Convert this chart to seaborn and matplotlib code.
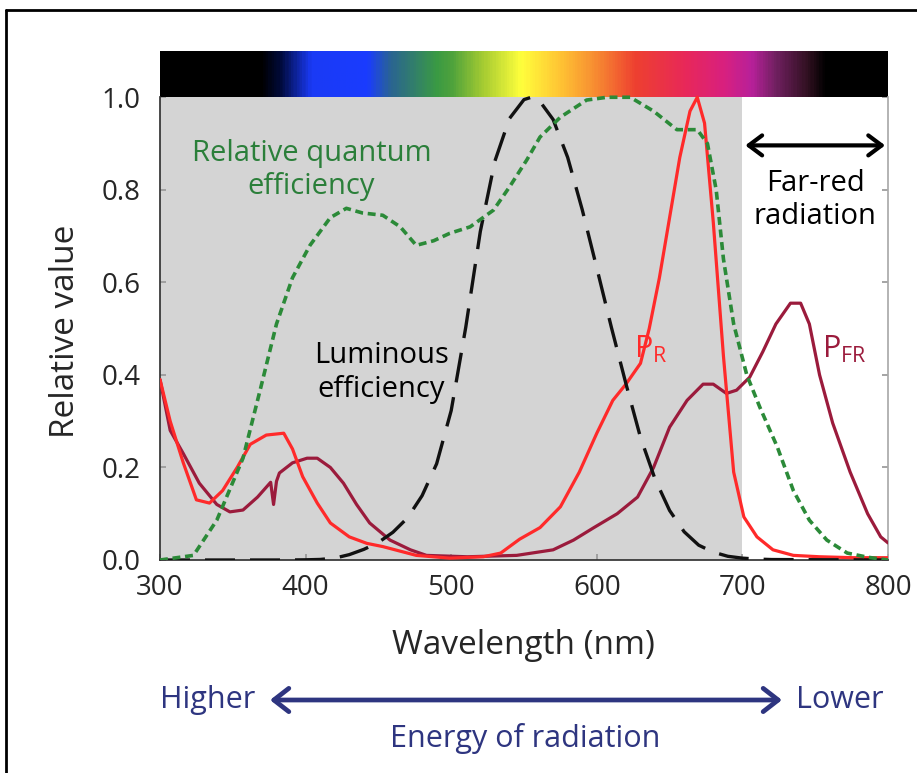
import matplotlib
matplotlib.use("Agg")
import matplotlib.pyplot as plt
import seaborn as sns
import numpy as np
import pandas as pd
from matplotlib.colors import LinearSegmentedColormap
from matplotlib.lines import Line2D

# ---------------------
#        DATA
# ---------------------
qe_wl = [300, 323, 339, 357, 369, 380, 391, 403, 417, 428, 439, 453, 465, 476, 488, 499,
         513, 529, 540, 552, 561, 575, 593, 607, 623, 639, 655, 669, 676, 682, 687, 694,
         703, 712, 724, 735, 746, 758, 772, 786, 800]
qe_val = [0.0, 0.01, 0.086, 0.22, 0.37, 0.51, 0.61, 0.68, 0.74, 0.76, 0.75, 0.745, 0.72, 0.68,
          0.69, 0.706, 0.72, 0.756, 0.806, 0.865, 0.914, 0.957, 0.994, 1.0, 1.0, 0.97, 0.93,
          0.93, 0.90, 0.80, 0.65, 0.51, 0.40, 0.33, 0.244, 0.15, 0.086, 0.043, 0.015, 0.006, 0.0]

lum_wl = [300, 380, 390, 400, 410, 420, 430, 440, 450, 460, 470, 480, 490, 500, 510, 520,
          530, 540, 550, 555, 560, 570, 580, 590, 600, 610, 620, 630, 640, 650, 660, 670,
          680, 690, 700, 710, 720, 800]
lum_val = [0.0, 0.0, 0.0001, 0.0004, 0.0012, 0.004, 0.0116, 0.023, 0.038, 0.06, 0.091, 0.139,
           0.208, 0.323, 0.503, 0.71, 0.862, 0.954, 0.995, 1.0, 0.995, 0.952, 0.87, 0.757,
           0.631, 0.503, 0.381, 0.265, 0.175, 0.107, 0.061, 0.032, 0.017, 0.008, 0.004, 0.002,
           0.001, 0.0]

pr_wl = [300, 307, 316, 325, 334, 343, 353, 362, 373, 385, 391, 398, 408, 417, 430, 442, 453,
         476, 499, 522, 534, 547, 561, 575, 588, 600, 611, 620, 630, 636, 643, 650, 657, 664,
         669, 674, 680, 687, 694, 701, 710, 721, 735, 753, 776, 800]
pr_val = [0.39, 0.30, 0.21, 0.13, 0.123, 0.15, 0.2, 0.25, 0.27, 0.274, 0.24, 0.18, 0.123,
          0.08, 0.05, 0.036, 0.029, 0.01, 0.004, 0.007, 0.015, 0.045, 0.07, 0.115, 0.19,
          0.274, 0.345, 0.38, 0.425, 0.5, 0.61, 0.74, 0.87, 0.97, 1.0, 0.944, 0.73, 0.44,
          0.19, 0.093, 0.05, 0.022, 0.01, 0.007, 0.005, 0.005]

pfr_wl = [300, 307, 316, 327, 339, 348, 357, 367, 376, 378, 380, 382, 391, 401, 408, 417, 426,
          435, 444, 458, 472, 483, 511, 545, 570, 584, 598, 614, 628, 639, 650, 662, 673, 680,
          689, 696, 705, 714, 723, 733, 740, 746, 753, 762, 774, 786, 795, 800]
pfr_val = [0.39, 0.28, 0.23, 0.166, 0.12, 0.104, 0.108, 0.136, 0.168, 0.12, 0.17, 0.188, 0.21,
           0.22, 0.22, 0.2, 0.166, 0.12, 0.08, 0.043, 0.022, 0.01, 0.007, 0.01, 0.022, 0.043,
           0.07, 0.1, 0.136, 0.2, 0.287, 0.345, 0.38, 0.38, 0.36, 0.367, 0.395, 0.45, 0.51,
           0.555, 0.555, 0.51, 0.40, 0.296, 0.19, 0.10, 0.05, 0.037]

# spectrum bar colour stops (wavelength, colour)
spec_wl = [300, 369, 382, 403, 442, 458, 490, 500, 522, 548, 575, 597, 627, 662, 689, 707,
           724, 746, 758, 800]
spec_col = ["#000000", "#000000", "#000a3a", "#1a3af5", "#1a3cff", "#2a6492", "#3a9a44",
            "#4ea23c", "#a6cc32", "#ffff3c", "#ffc434", "#f89232", "#ee4030", "#e8285a",
            "#d82080", "#b8209a", "#702060", "#301020", "#000000", "#000000"]

xticks = [300, 400, 500, 600, 700, 800]
yticks = [0.0, 0.2, 0.4, 0.6, 0.8, 1.0]

# ---------------------
#        PLOT
# ---------------------
sns.set_theme(style="ticks")
plt.rcParams["font.family"] = ["Open Sans", "DejaVu Sans"]
plt.rcParams["mathtext.fontset"] = "custom"
plt.rcParams["mathtext.rm"] = "Open Sans"

fig = plt.figure(figsize=(9.17, 7.73), dpi=100)
ax = fig.add_axes([160 / 917, 1 - 560 / 773, 728 / 917, 509 / 773])

# grey PAR background and spectrum bar
ax.axvspan(300, 700, ymin=0, ymax=1.0 / 1.1, color="#d4d4d4", zorder=0, lw=0)
cmap = LinearSegmentedColormap.from_list(
    "spec", [((w - 300) / 500, c) for w, c in zip(spec_wl, spec_col)])
ax.imshow(np.linspace(0, 1, 600)[None, :], extent=[300, 800, 1.0, 1.1],
          aspect="auto", cmap=cmap, zorder=1)

df_qe = pd.DataFrame({"wl": qe_wl, "v": qe_val})
df_lum = pd.DataFrame({"wl": lum_wl, "v": lum_val})
df_pr = pd.DataFrame({"wl": pr_wl, "v": pr_val})
df_pfr = pd.DataFrame({"wl": pfr_wl, "v": pfr_val})

sns.lineplot(data=df_pfr, x="wl", y="v", ax=ax, color="#9b1b3c", lw=2.3, zorder=3)
sns.lineplot(data=df_pr, x="wl", y="v", ax=ax, color="#ff2a2a", lw=2.3, zorder=4)
sns.lineplot(data=df_lum, x="wl", y="v", ax=ax, color="#111111", lw=2.4, zorder=5)
ax.lines[-1].set_dashes((9, 4.5))
sns.lineplot(data=df_qe, x="wl", y="v", ax=ax, color="#2b8a38", lw=2.6, zorder=6)
ax.lines[-1].set_dashes((2.2, 1.3))

ax.set_xlim(300, 800)
ax.set_ylim(0, 1.1)
ax.set_xticks(xticks)
ax.set_yticks(yticks)
ax.set_yticklabels([f"{t:.1f}" for t in yticks])
ax.tick_params(direction="in", length=4, color="#999999", labelsize=20)
ax.tick_params(axis="y", right=True, pad=14)
ax.tick_params(axis="x", pad=10)
ax.spines["top"].set_visible(False)
ax.spines["right"].set_color("#aaaaaa")
ax.spines["right"].set_bounds(0, 1.0)
ax.spines["left"].set_bounds(0, 1.0)
ax.spines["left"].set_color("#333333")
ax.spines["bottom"].set_color("#333333")
ax.set_xlabel("Wavelength (nm)", fontsize=24)
ax.set_ylabel("Relative value", fontsize=24)
ax.xaxis.set_label_coords(0.499, -0.167)
ax.yaxis.set_label_coords(-0.13, 0.45)
ax.xaxis.label.set_va("center")
ax.yaxis.label.set_va("center")

# annotations
ax.text(404, 0.843, "Relative quantum\nefficiency", color="#2b7f3a", fontsize=21,
        ha="center", va="center", linespacing=1.2, zorder=7)
ax.text(452, 0.405, "Luminous\nefficiency", color="black", fontsize=21,
        ha="center", va="center", linespacing=1.25, zorder=7)
ax.text(750, 0.778, "Far-red\nradiation", color="black", fontsize=21,
        ha="center", va="center", linespacing=1.2, zorder=7)
ax.annotate("", xy=(702, 0.896), xytext=(798, 0.896),
            arrowprops=dict(arrowstyle="<->,head_length=0.8,head_width=0.6",
                            color="black", lw=3.0, shrinkA=0, shrinkB=0))
ax.text(637, 0.454, r"P$_{\mathregular{R}}$", color="#ff2a2a", fontsize=22,
        ha="center", va="center", zorder=7)
ax.text(770, 0.454, r"P$_{\mathregular{FR}}$", color="#9b1b3c", fontsize=22,
        ha="center", va="center", zorder=7)

# energy arrow under the axes
navy = "#2e3580"
fig.text(208 / 917, 1 - 700 / 773, "Higher", color=navy, fontsize=22,
         ha="center", va="center")
fig.text(840 / 917, 1 - 700 / 773, "Lower", color=navy, fontsize=22,
         ha="center", va="center")
fig.text(525 / 917, 1 - 738 / 773, "Energy of radiation", color=navy, fontsize=22,
         ha="center", va="center")
ax.annotate("", xy=(270 / 917, 1 - 700 / 773), xytext=(782 / 917, 1 - 700 / 773),
            xycoords="figure fraction", textcoords="figure fraction",
            arrowprops=dict(arrowstyle="<->,head_length=0.9,head_width=0.7",
                            color=navy, lw=3.4, shrinkA=0, shrinkB=0))

# frame around the figure (left and top only visible)
fig.add_artist(Line2D([6 / 917, 6 / 917], [0, 1 - 10 / 773], transform=fig.transFigure,
                      color="black", lw=2))
fig.add_artist(Line2D([6 / 917, 1], [1 - 10 / 773, 1 - 10 / 773], transform=fig.transFigure,
                      color="black", lw=2))

fig.savefig("out.png", dpi=100)
